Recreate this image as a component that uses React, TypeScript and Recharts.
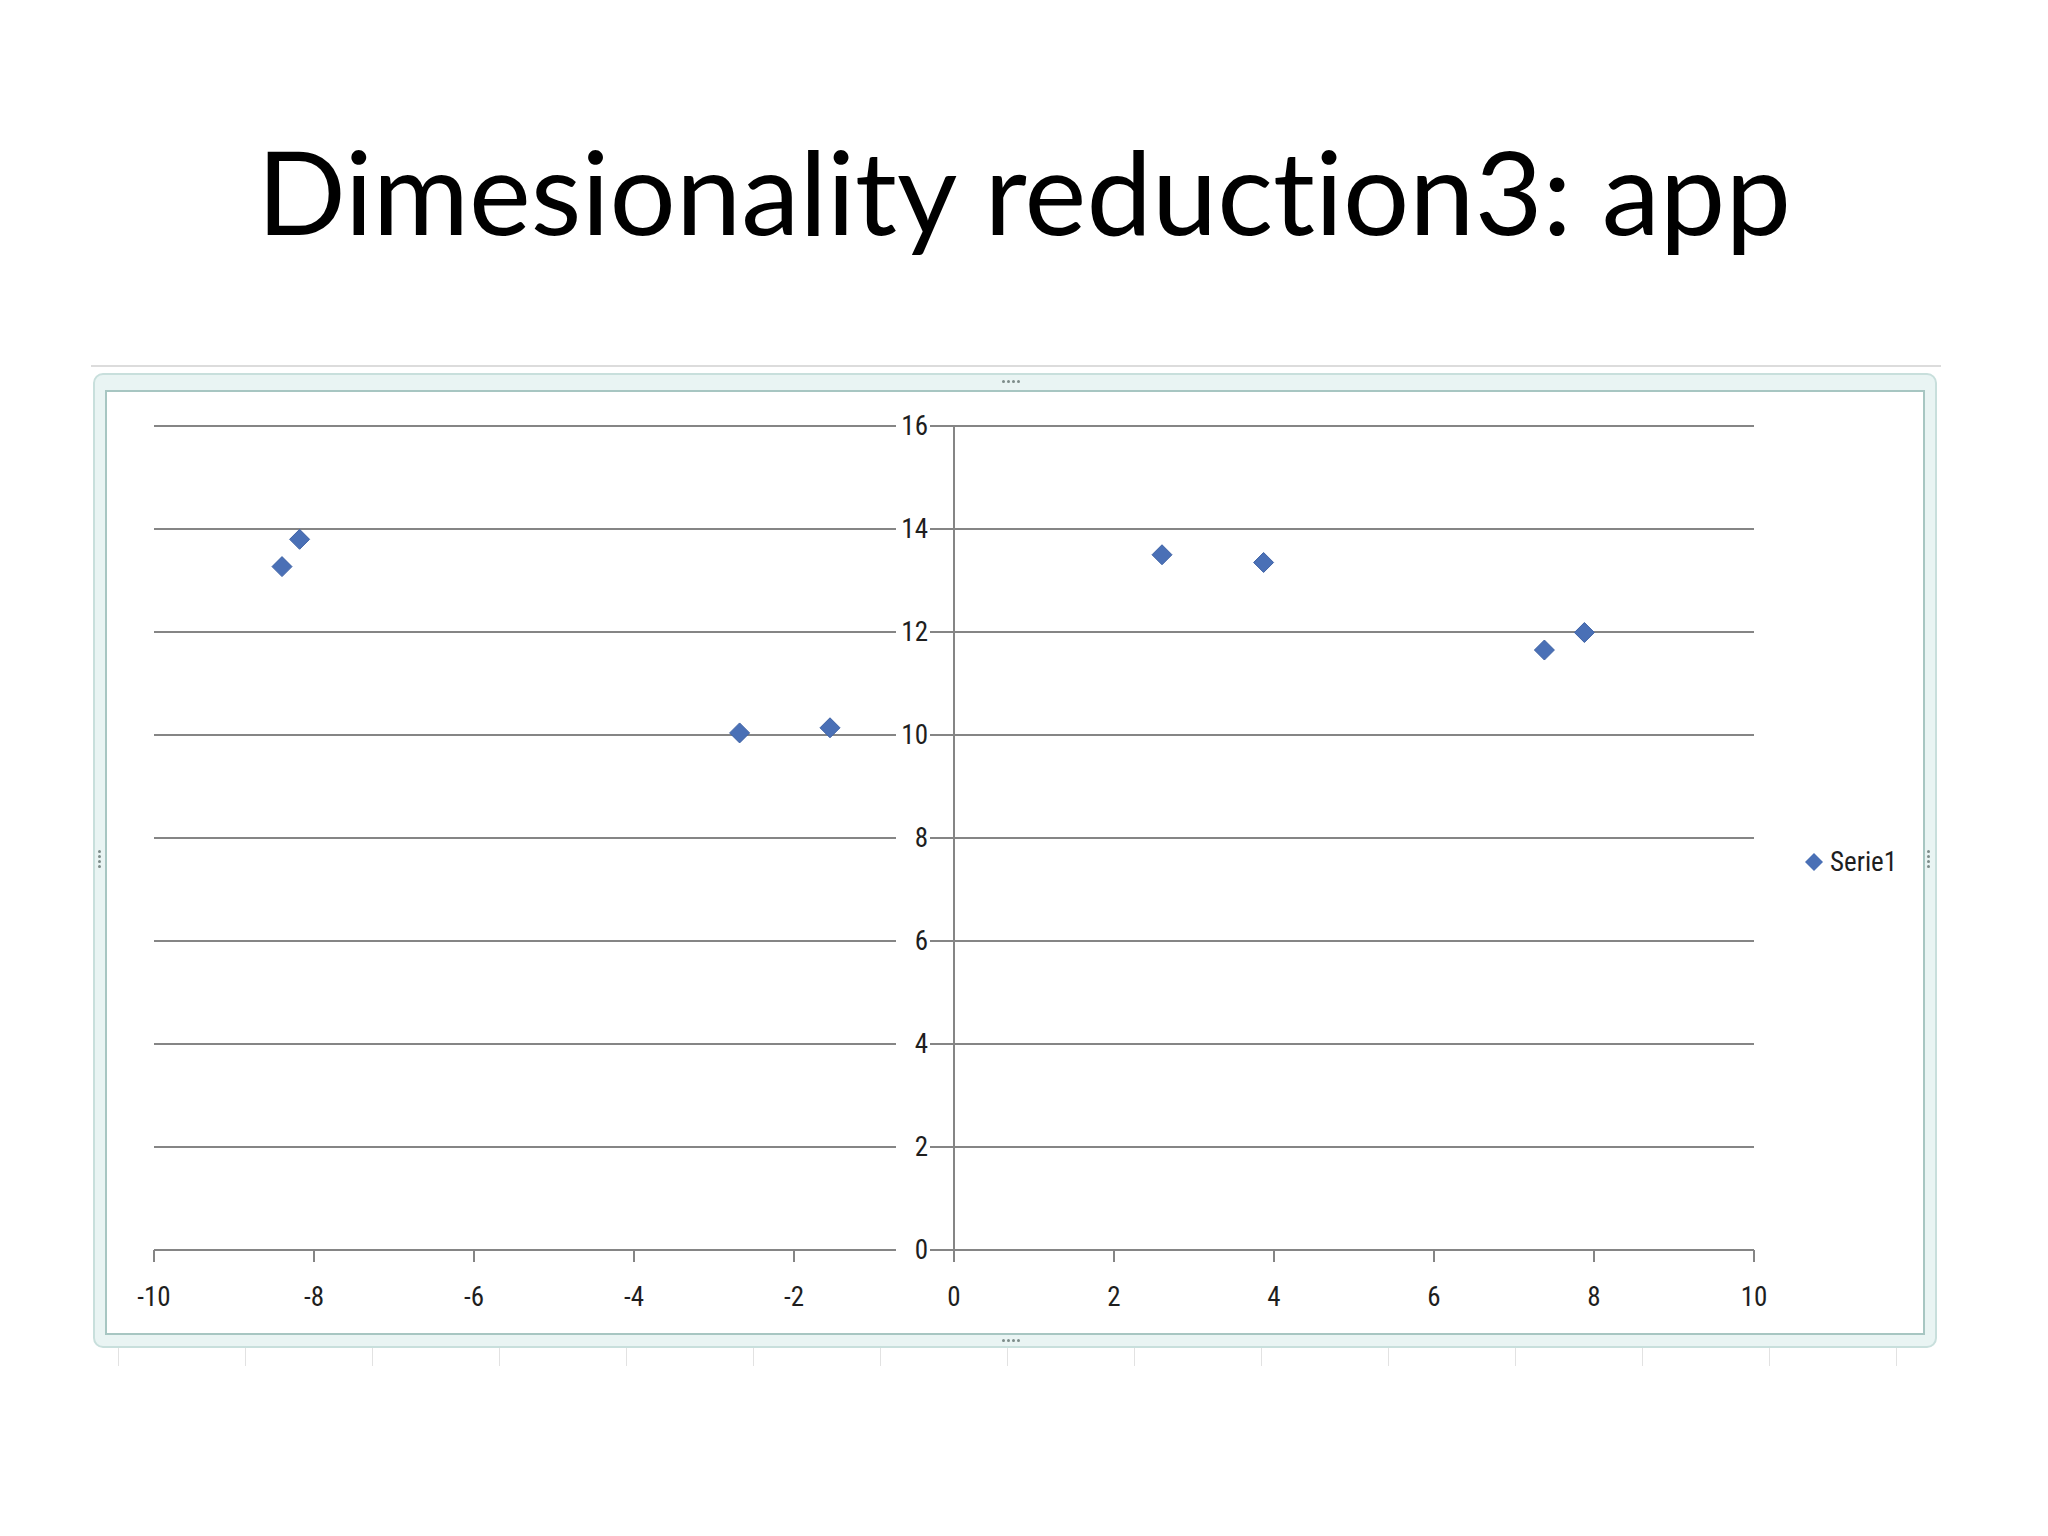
import React from "react";
import {
  ScatterChart,
  Scatter,
  XAxis,
  YAxis,
  CartesianGrid,
  ReferenceLine,
} from "recharts";

// values
const xTicks = [-10, -8, -6, -4, -2, 0, 2, 4, 6, 8, 10];
const yTicks = [0, 2, 4, 6, 8, 10, 12, 14, 16];
const pointX = [-8.4, -8.18, -2.68, -1.55, 2.6, 3.87, 7.38, 7.88];
const pointY = [13.27, 13.8, 10.04, 10.14, 13.5, 13.35, 11.65, 11.99];
const seriesName = "Serie1";

const data = pointX.map((x, i) => ({ x, y: pointY[i] }));

const W = 2048;
const H = 1536;
const PLOT_LEFT = 154;
const PLOT_TOP = 426;
const PLOT_RIGHT = 1754;
const PLOT_BOTTOM = 1250;
const AXIS_X = PLOT_LEFT + (PLOT_RIGHT - PLOT_LEFT) / 2;
const Y_AXIS_W = 2;

const GRID = "#858585";
const BLUE = "#4a70b6";
const TICK_FONT = '"Liberation Sans Narrow", "Roboto Condensed", Roboto, sans-serif';

const Diamond = (props: any) => {
  const { cx, cy } = props;
  const r = 10;
  return (
    <polygon
      points={`${cx},${cy - r} ${cx + r},${cy} ${cx},${cy + r} ${cx - r},${cy}`}
      fill={BLUE}
      stroke="#3f63a6"
      strokeWidth={1}
    />
  );
};

// y labels sit on the vertical axis at x = 0
const YTick = (props: any) => {
  const { y, payload } = props;
  return (
    <g>
      <line x1={AXIS_X - 12} x2={AXIS_X} y1={y} y2={y} stroke={GRID} strokeWidth={2} />
      <rect x={AXIS_X - 58} y={y - 13} width={34} height={26} fill="#fff" />
      <text
        x={AXIS_X - 26}
        y={y}
        textAnchor="end"
        dominantBaseline="central"
        fill="#1e1e1e"
        fontSize={27}
        fontFamily={TICK_FONT}
      >
        {payload.value}
      </text>
    </g>
  );
};

const dots = (n: number, vertical: boolean) => (
  <div style={{ display: "flex", flexDirection: vertical ? "column" : "row", gap: 2 }}>
    {Array.from({ length: n }).map((_, i) => (
      <div key={i} style={{ width: 3, height: 3, background: "#7d8c8a", borderRadius: 2 }} />
    ))}
  </div>
);

export default function App() {
  return (
    <div
      style={{
        position: "absolute",
        left: 0,
        top: 0,
        width: W,
        height: H,
        background: "#fff",
        overflow: "hidden",
      }}
    >
      {/* slide title */}
      <svg style={{ position: "absolute", left: 0, top: 0 }} width={W} height={300}>
        <text
          x={1024}
          y={235}
          textAnchor="middle"
          fontFamily="Lato, 'Open Sans', sans-serif"
          fontSize={117}
          fill="#000"
          style={{ fontVariantLigatures: "none" }}
        >
          Dimesionality reduction3: app
        </text>
      </svg>

      {/* faint sheet lines behind the chart object */}
      <div style={{ position: "absolute", left: 91, top: 365, width: 1850, height: 2, background: "#dcdcdc" }} />
      {Array.from({ length: 15 }).map((_, i) => (
        <div
          key={i}
          style={{ position: "absolute", left: 118 + i * 127, top: 1330, width: 1, height: 36, background: "#e2e2e2" }}
        />
      ))}

      {/* chart frame */}
      <div
        style={{
          position: "absolute",
          left: 93,
          top: 373,
          width: 1844,
          height: 975,
          boxSizing: "border-box",
          border: "2px solid #c8dfdc",
          background: "#e9f4f3",
          borderRadius: 10,
        }}
      />
      <div
        style={{
          position: "absolute",
          left: 105,
          top: 390,
          width: 1820,
          height: 945,
          boxSizing: "border-box",
          border: "2px solid #a7c6c2",
          background: "#fff",
        }}
      />
      <div style={{ position: "absolute", left: 1002, top: 380 }}>{dots(4, false)}</div>
      <div style={{ position: "absolute", left: 1002, top: 1339 }}>{dots(4, false)}</div>
      <div style={{ position: "absolute", left: 98, top: 850 }}>{dots(4, true)}</div>
      <div style={{ position: "absolute", left: 1927, top: 850 }}>{dots(4, true)}</div>

      <div style={{ position: "absolute", left: 0, top: 0 }}>
        <ScatterChart
          width={W}
          height={H}
          margin={{
            top: PLOT_TOP,
            left: PLOT_LEFT - Y_AXIS_W,
            right: W - PLOT_RIGHT,
            bottom: H - PLOT_BOTTOM - 60,
          }}
        >
          <CartesianGrid vertical={false} stroke={GRID} strokeWidth={2} />
          <XAxis
            type="number"
            dataKey="x"
            domain={[-10, 10]}
            ticks={xTicks}
            height={60}
            axisLine={{ stroke: GRID, strokeWidth: 2 }}
            tickLine={{ stroke: GRID, strokeWidth: 2 }}
            tickSize={12}
            tickMargin={25}
            tick={{ fill: "#1e1e1e", fontSize: 27, fontFamily: TICK_FONT }}
            allowDataOverflow
          />
          <YAxis
            type="number"
            dataKey="y"
            domain={[0, 16]}
            ticks={yTicks}
            width={Y_AXIS_W}
            axisLine={false}
            tickLine={false}
            tick={(p: any) => <YTick {...p} />}
            allowDataOverflow
          />
          <ReferenceLine x={0} stroke={GRID} strokeWidth={2} />
          <Scatter
            name={seriesName}
            data={data}
            fill={BLUE}
            shape={<Diamond />}
            isAnimationActive={false}
          />
        </ScatterChart>
      </div>

      {/* legend */}
      <div
        style={{
          position: "absolute",
          left: 1804,
          top: 846,
          display: "flex",
          alignItems: "center",
          gap: 6,
          fontFamily: TICK_FONT,
          fontSize: 27,
          color: "#1e1e1e",
        }}
      >
        <svg width={20} height={20}>
          <polygon points="10,1 19,10 10,19 1,10" fill={BLUE} />
        </svg>
        <span>{seriesName}</span>
      </div>
    </div>
  );
}
